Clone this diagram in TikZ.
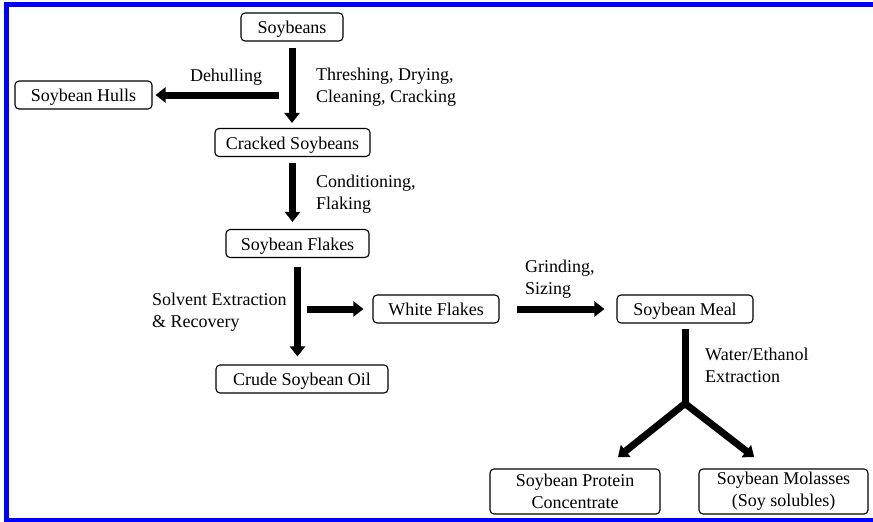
\documentclass[tikz,border=0pt]{standalone}
\usepackage{fontspec}
\setmainfont{Liberation Serif}
\usetikzlibrary{arrows.meta}
\tikzset{bigtip/.tip={Triangle[width=15pt,length=10pt]}}

\begin{document}
\begin{tikzpicture}[x=1pt,y=-1pt,
  box/.style={draw,rounded corners=4pt,line width=1.1pt,minimum height=28pt,inner sep=0pt,font=\fontsize{18}{22}\selectfont,align=center},
  one/.style={box,text height=13pt,text depth=0pt},
  lbl/.style={inner sep=0pt,font=\fontsize{18}{22}\selectfont,align=left,anchor=west},
  shaft/.style={line width=7pt},
  flow/.style={shaft,-bigtip}]
\useasboundingbox (0,0) rectangle (873,522);
% blue frame
\fill[blue] (4,2) rectangle (873,7);
\fill[blue] (4,2) rectangle (9,522);
\fill[blue] (4,518) rectangle (873,522);

\node[one,minimum width=102pt] (A) at (292,27) {Soybeans};
\node[one,minimum width=137pt] (B) at (83.5,95) {Soybean Hulls};
\node[one,minimum width=155pt] (C) at (292.5,142.5) {Cracked Soybeans};
\node[one,minimum width=143pt] (D) at (297.5,243.5) {Soybean Flakes};
\node[one,minimum width=172pt] (E) at (302,379) {Crude Soybean Oil};
\node[one,minimum width=126pt] (F) at (436,309) {White Flakes};
\node[one,minimum width=136pt] (G) at (685,309) {Soybean Meal};
\node[box,minimum width=170pt,minimum height=45pt] (P) at (575,491.5) {Soybean Protein\\Concentrate};
\node[box,minimum width=169pt,minimum height=45pt] (Q) at (783.5,491.5) {Soybean Molasses\\(Soy solubles)};

\node[lbl,anchor=center] (K) at (226,77) {Dehulling};
\node[lbl] (L) at (316,87.5) {Threshing, Drying,\\Cleaning, Cracking};
\node[lbl] (M) at (316,194.5) {Conditioning,\\Flaking};
\node[lbl] (N) at (152,312) {Solvent Extraction\\\& Recovery};
\node[lbl] (R) at (525,279.5) {Grinding,\\Sizing};
\node[lbl] (S) at (705,365) {Water/Ethanol\\Extraction};

\coordinate (d) at ([xshift=-13pt]A |- B);
\coordinate (e) at ([xshift=9pt]D |- F);
\coordinate (Y) at ([yshift=-80pt]G.south);

\draw[flow,shorten <=6pt,shorten >=5pt] (A) -- (A |- C.north);
\draw[flow,shorten >=3pt] (d) -- (B);
\draw[flow,shorten <=6pt,shorten >=7pt] (C) -- (C |- D.north);
\draw[flow,shorten <=9pt,shorten >=8pt] (D) -- (D |- E.north);
\draw[flow,shorten >=9pt] (e) -- (F);
\draw[flow,shorten <=17pt,shorten >=12pt] (F) -- (G);
\draw[shaft,shorten <=5pt] (G) -- (Y);
\draw[shaft,bigtip-bigtip,shorten <=18pt,shorten >=56pt] (P) -- (Y) -- ([xshift=15pt]Q.center);

\end{tikzpicture}
\end{document}
